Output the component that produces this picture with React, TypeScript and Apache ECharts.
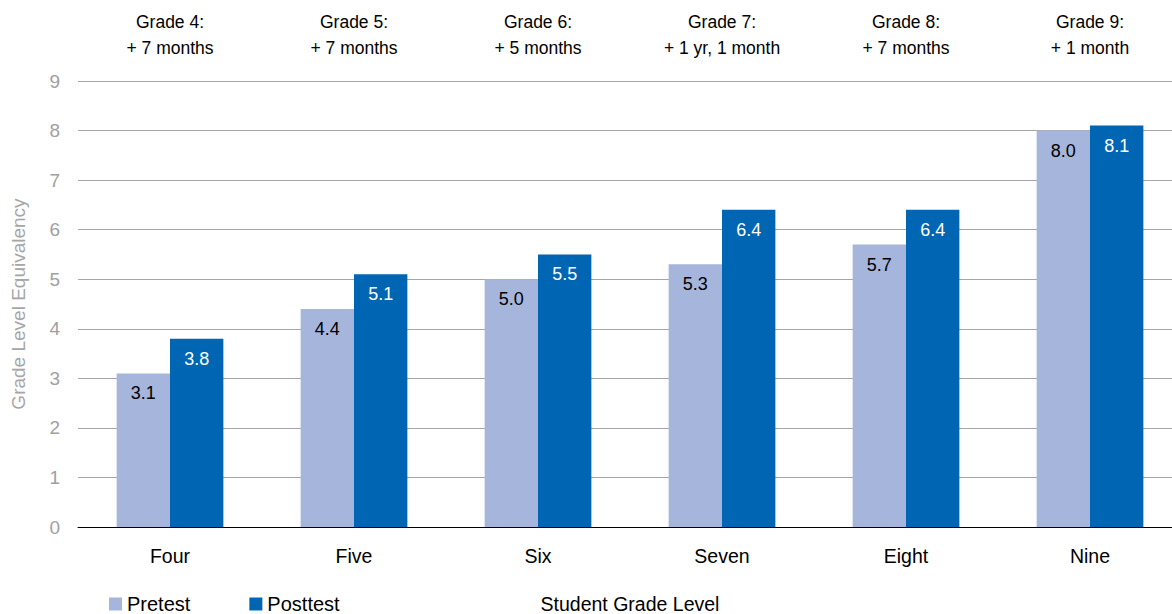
import React, { useEffect, useRef } from "react";
import * as echarts from "echarts";

const categories = ["Four", "Five", "Six", "Seven", "Eight", "Nine"];
const topLabels = [
  "Grade 4:\n+ 7 months",
  "Grade 5:\n+ 7 months",
  "Grade 6:\n+ 5 months",
  "Grade 7:\n+ 1 yr, 1 month",
  "Grade 8:\n+ 7 months",
  "Grade 9:\n+ 1 month",
];
const pretest = [3.1, 4.4, 5.0, 5.3, 5.7, 8.0];
const posttest = [3.8, 5.1, 5.5, 6.4, 6.4, 8.1];

const FONT = "'Liberation Sans', Arial, sans-serif";

export default function App() {
  const ref = useRef<HTMLDivElement>(null);
  useEffect(() => {
    if (!ref.current) return;
    const chart = echarts.init(ref.current, undefined, { renderer: "svg" });
    chart.setOption({
      animation: false,
      textStyle: { fontFamily: FONT },
      grid: { left: 78, right: -10, top: 81, bottom: 87, containLabel: false, outerBoundsMode: "none" },
      legend: {
        left: 109,
        top: 594,
        padding: 0,
        itemWidth: 13,
        itemHeight: 13,
        itemGap: 59,
        icon: "rect",
        textStyle: { fontFamily: FONT, fontSize: 20, color: "#000" },
        data: ["Pretest", "Posttest"],
      },
      xAxis: [
        {
          type: "category",
          data: categories,
          position: "bottom",
          axisLine: { lineStyle: { color: "#000", width: 1 } },
          axisTick: { length: 6, lineStyle: { color: "#000" } },
          axisLabel: { color: "#000", fontSize: 19.5, fontFamily: FONT, margin: 19 },
          name: "Student Grade Level",
          nameLocation: "middle",
          nameGap: 67,
          nameTextStyle: { color: "#000", fontSize: 19.5, fontFamily: FONT },
        },
        {
          type: "category",
          data: topLabels,
          position: "top",
          axisLine: { show: false },
          axisTick: { show: false },
          axisLabel: { color: "#000", fontSize: 17.5, fontFamily: FONT, lineHeight: 26, margin: 20 },
        },
      ],
      yAxis: {
        type: "value",
        min: 0,
        max: 9,
        interval: 1,
        axisLine: { show: false },
        axisTick: { show: false },
        splitLine: { lineStyle: { color: "#a6a6a6", width: 1 } },
        axisLabel: { color: "#a0a0a0", fontSize: 19, fontFamily: FONT, margin: 18 },
        name: "Grade Level Equivalency",
        nameLocation: "middle",
        nameGap: 50,
        nameTextStyle: { color: "#a6a6a6", fontSize: 19, fontFamily: FONT },
      },
      series: [
        {
          name: "Pretest",
          type: "bar",
          data: pretest,
          barGap: "0%",
          barCategoryGap: "42%",
          itemStyle: { color: "#a6b5db" },
          label: {
            show: true,
            position: "insideTop",
            distance: 11,
            color: "#000",
            fontSize: 18,
            fontFamily: FONT,
            formatter: (p: any) => p.value.toFixed(1),
          },
        },
        {
          name: "Posttest",
          type: "bar",
          data: posttest,
          barGap: "0%",
          barCategoryGap: "42%",
          itemStyle: { color: "#0066b3" },
          label: {
            show: true,
            position: "insideTop",
            distance: 11,
            color: "#fff",
            fontSize: 18,
            fontFamily: FONT,
            formatter: (p: any) => p.value.toFixed(1),
          },
        },
      ],
    });
    return () => chart.dispose();
  }, []);
  return <div ref={ref} style={{ width: 1172, height: 614, position: "absolute", left: 0, top: 0 }} />;
}
